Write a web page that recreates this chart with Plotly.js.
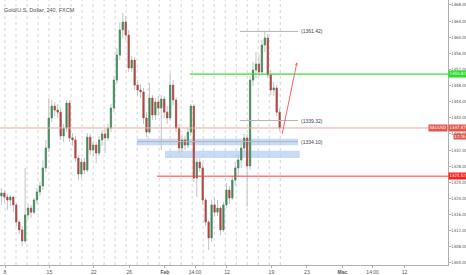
<!DOCTYPE html>
<html><head><meta charset="utf-8">
<script src="https://cdn.plot.ly/plotly-3.0.1.min.js"></script>
<style>html,body{margin:0;padding:0;background:#fff;}#chart{width:466px;height:275px;}</style>
</head><body><div id="chart"></div>
<script>
// ---- data (Gold/U.S. Dollar, 240, FXCM) ----
const firstDay = -0.4;      // trading-day index of first bar (0 = Jan 8)
const barsPerDay = 3;
const openP = [1320.6,1321.35,1320.35,1319.6,1320.35,1318.4,1314.15,1312.2,1309.45,1315.9,
1317.6,1316.6,1319.6,1321.6,1323.1,1327.55,1332.5,1339.95,1342.9,1341.9,
1341.4,1335.5,1337.45,1343.65,1335.0,1334.5,1330.0,1326.05,1329.0,1327.05,
1335.2,1332.0,1333.25,1331.25,1334.5,1336.0,1335.0,1337.45,1342.4,1349.35,
1355.55,1361.8,1363.75,1360.5,1352.35,1354.3,1348.1,1346.9,1346.4,1339.95,
1336.45,1344.9,1340.7,1343.9,1342.4,1344.65,1341.4,1339.95,1348.1,1344.4,
1337.45,1332.5,1334.5,1333.25,1336.45,1342.9,1325.05,1329.0,1327.55,1319.6,
1314.15,1310.2,1318.4,1316.6,1317.6,1312.2,1318.4,1322.1,1320.1,1324.55,
1327.55,1329.55,1332.5,1335.0,1328.05,1349.35,1351.85,1353.35,1351.35,1358.05,
1359.8,1350.6,1346.9,1347.4,1341.4];
const closeP = [1321.35,1320.35,1319.6,1320.35,1318.4,1314.15,1312.2,1309.45,1315.9,1317.6,
1316.6,1319.6,1321.6,1323.1,1327.55,1332.5,1339.95,1342.9,1341.9,1341.4,
1335.5,1337.45,1343.65,1335.0,1334.5,1330.0,1326.05,1329.0,1327.05,1335.2,
1332.0,1333.25,1331.25,1334.5,1336.0,1335.0,1337.45,1342.4,1349.35,1355.55,
1361.8,1363.75,1360.5,1352.35,1354.3,1348.1,1346.9,1346.4,1339.95,1336.45,
1344.9,1340.7,1343.9,1342.4,1344.65,1341.4,1339.95,1348.1,1344.4,1337.45,
1332.5,1334.5,1333.25,1336.45,1342.9,1325.05,1329.0,1327.55,1319.6,1314.15,
1310.2,1318.4,1316.6,1317.6,1312.2,1318.4,1322.1,1320.1,1324.55,1327.55,
1329.55,1332.5,1335.0,1328.05,1349.35,1351.85,1353.35,1351.35,1358.05,1359.8,
1350.6,1346.9,1347.4,1341.4,1337.47];
const highP = [1322.6,1322.1,1321.1,1320.85,1320.6,1318.9,1314.65,1313.2,1327.55,1318.6,
1318.4,1320.1,1322.6,1324.1,1329.5,1334.5,1344.9,1344.4,1343.9,1343.4,
1342.4,1338.45,1344.4,1344.4,1336.2,1335.5,1330.8,1330.0,1330.0,1336.2,
1336.0,1334.25,1334.0,1335.5,1337.0,1337.45,1338.45,1343.4,1350.35,1357.3,
1363.75,1366.0,1365.25,1361.8,1355.3,1355.05,1349.35,1348.4,1347.4,1341.4,
1348.6,1345.65,1344.9,1345.4,1345.65,1345.4,1342.9,1351.1,1349.35,1345.15,
1338.45,1336.0,1335.5,1337.45,1343.4,1343.4,1330.0,1330.0,1328.8,1320.1,
1314.65,1319.6,1320.1,1319.6,1318.1,1319.1,1323.8,1323.1,1325.55,1329.0,
1330.8,1334.5,1336.0,1336.0,1350.35,1353.85,1356.3,1355.55,1359.3,1361.42,
1360.8,1351.85,1348.85,1348.1,1342.4];
const lowP = [1318.4,1318.9,1317.1,1318.1,1316.6,1313.2,1311.2,1308.2,1308.95,1314.65,
1315.15,1316.1,1318.6,1320.6,1322.1,1326.55,1331.5,1338.95,1340.45,1339.95,
1334.5,1334.0,1336.45,1334.0,1333.0,1329.0,1324.55,1325.05,1326.05,1326.55,
1330.8,1330.5,1328.8,1330.5,1333.0,1331.25,1334.25,1336.45,1341.4,1348.4,
1354.3,1359.8,1359.3,1351.35,1351.35,1346.9,1345.4,1344.9,1338.45,1335.25,
1336.0,1339.45,1339.45,1340.45,1332.0,1339.95,1338.45,1339.45,1343.15,1336.45,
1331.25,1331.5,1332.0,1332.5,1335.5,1324.05,1320.35,1326.55,1318.6,1313.15,
1307.2,1309.2,1315.65,1315.65,1310.9,1311.7,1317.6,1318.6,1319.6,1323.1,
1325.55,1327.55,1331.5,1317.9,1327.05,1347.9,1349.85,1350.35,1350.85,1356.3,
1349.85,1345.65,1345.4,1340.45,1336.7];

// x-axis labels (trading-day index)
const tickDays  = [0, 5, 10, 14, 18, 21.4, 25, 30, 34, 38, 41.4, 45];
const tickTexts = ['8','15','22','26','<b>Feb</b>','14:00','12','19','23','<b>Mac</b>','14:00','12'];

// drawing levels
const lastPrice = 1337.47;
const greenLevel = 1350.82, greenFrom = 20.83;
const redLevel = 1325.52, redFrom = 17.12;
const markedLevels = [1361.42, 1339.32, 1334.10];
const markedFrom = [26.46, 26.46, 14.86];
const markedTo = 33.0;
const zones = [{x0:14.86, x1:33.0, y0:1333.2, y1:1334.8},{x0:18.02, x1:33.2, y0:1330.0, y1:1331.8}];
const arrowFrom = [31.19, 1335.7], arrowTo = [32.88, 1353.8];
const countdown = '17:26';

// ---- build ----
const xs = openP.map((_, i) => firstDay + i / barsPerDay);
const bodyHi = openP.map((o, i) => Math.max(o, closeP[i]));
const bodyLo = openP.map((o, i) => Math.min(o, closeP[i]));
const up = '#3d8a58', dn = '#b3423a', wick = '#c4c4c4';

const traces = [
  {type:'candlestick', x:xs, open:openP, high:highP, low:lowP, close:closeP,
   increasing:{line:{color:wick, width:1}, fillcolor:wick},
   decreasing:{line:{color:wick, width:1}, fillcolor:wick},
   whiskerwidth:0, hoverinfo:'skip', showlegend:false},
  {type:'candlestick', x:xs, open:openP, high:bodyHi, low:bodyLo, close:closeP,
   increasing:{line:{color:up, width:0.6}, fillcolor:up},
   decreasing:{line:{color:dn, width:0.6}, fillcolor:dn},
   whiskerwidth:0, hoverinfo:'skip', showlegend:false}
];

const xMin = -0.563, xMax = 49.89;
const shapes = [];
// dotted vertical grid over the data span
for (let d = 0; d <= xs[xs.length-1] + 0.2; d += 1.24) {
  shapes.push({type:'line', xref:'x', yref:'paper', x0:d, x1:d, y0:0, y1:1, layer:'below',
    line:{color:'#d6d6d6', width:1, dash:'dot'}});
}
zones.forEach(z => shapes.push({type:'rect', xref:'x', yref:'y', x0:z.x0, x1:z.x1, y0:z.y0, y1:z.y1,
  line:{width:0}, fillcolor:'rgba(165,195,240,0.62)', layer:'below'}));
shapes.push({type:'line', xref:'paper', yref:'y', x0:0, x1:1, y0:lastPrice, y1:lastPrice,
  line:{color:'#f3a79f', width:1}});
shapes.push({type:'line', xref:'x', yref:'y', x0:greenFrom, x1:xMax, y0:greenLevel, y1:greenLevel,
  line:{color:'#33e033', width:1.3}});
shapes.push({type:'line', xref:'x', yref:'y', x0:redFrom, x1:xMax, y0:redLevel, y1:redLevel,
  line:{color:'#ff3a3a', width:1}});
markedLevels.forEach((v, k) => shapes.push({type:'line', xref:'x', yref:'y', x0:markedFrom[k], x1:markedTo,
  y0:v, y1:v, line:{color:'#b4b4b4', width:1}}));

const fnt = 'Liberation Sans Narrow, DejaVu Sans Condensed, Liberation Sans, Arial, sans-serif';
const fnt2 = 'Liberation Sans, Arial, sans-serif';
const annotations = [];
annotations.push({xref:'paper', yref:'paper', x:0, y:1, xanchor:'left', yanchor:'top', xshift:2, yshift:-5,
  text:'Gold/U.S. Dollar, 240, FXCM', showarrow:false, font:{family:fnt2, size:5.5, color:'#555'}});
markedLevels.forEach(v => annotations.push({xref:'x', yref:'y', x:markedTo, y:v, xanchor:'left', xshift:1,
  text:'(' + v.toFixed(2) + ')', showarrow:false, font:{family:fnt2, size:5, color:'#444'}}));
function priceTag(v, bg, fc) {
  return {xref:'paper', yref:'y', x:1, y:v, xanchor:'left', xshift:0, text:v.toFixed(2), showarrow:false,
    bgcolor:bg, borderpad:0.4, font:{family:fnt, size:4.4, color:fc}};
}
annotations.push(priceTag(greenLevel, '#22e022', '#ffffff'));
annotations.push(priceTag(redLevel, '#ff1f1f', '#ffffff'));
annotations.push(priceTag(lastPrice, '#e2574c', '#ffffff'));
annotations.push({xref:'paper', yref:'y', x:1, y:lastPrice, xanchor:'right', xshift:-0.5, text:'XAUUSD',
  showarrow:false, bgcolor:'#e2574c', borderpad:0.4, font:{family:fnt, size:4.4, color:'#fff'}});
annotations.push({xref:'paper', yref:'y', x:1, y:lastPrice, xanchor:'left', xshift:5, yshift:-9, text:countdown,
  showarrow:false, bgcolor:'#e2574c', borderpad:0.2, font:{family:fnt, size:4.3, color:'#fff'}});
annotations.push({xref:'x', yref:'y', axref:'x', ayref:'y', x:arrowTo[0], y:arrowTo[1], ax:arrowFrom[0], ay:arrowFrom[1],
  text:'', showarrow:true, arrowhead:2, arrowsize:0.6, arrowwidth:1, arrowcolor:'#ff6262'});

const layout = {
  width:466, height:275, margin:{l:0, r:18, t:0, b:10},
  paper_bgcolor:'#ffffff', plot_bgcolor:'#ffffff', showlegend:false, boxgap:0.4,
  xaxis:{type:'linear', range:[xMin, xMax], rangeslider:{visible:false}, showgrid:false, zeroline:false,
    showline:true, linecolor:'#b0b0b0', linewidth:1, ticks:'outside', ticklen:2, tickcolor:'#b0b0b0',
    tickmode:'array', tickvals:tickDays, ticktext:tickTexts, tickfont:{family:fnt2, size:5, color:'#555'}},
  yaxis:{side:'right', range:[1303.49, 1369.21], showgrid:false, zeroline:false, showline:true,
    linecolor:'#b0b0b0', linewidth:1, ticks:'outside', ticklen:2, tickcolor:'#b0b0b0', ticklabelstandoff:-1,
    tick0:1304, dtick:4, tickformat:'.2f', tickfont:{family:fnt, size:4.4, color:'#555'}},
  shapes:shapes, annotations:annotations
};
Plotly.newPlot('chart', traces, layout, {displayModeBar:false, staticPlot:true});
</script></body></html>
